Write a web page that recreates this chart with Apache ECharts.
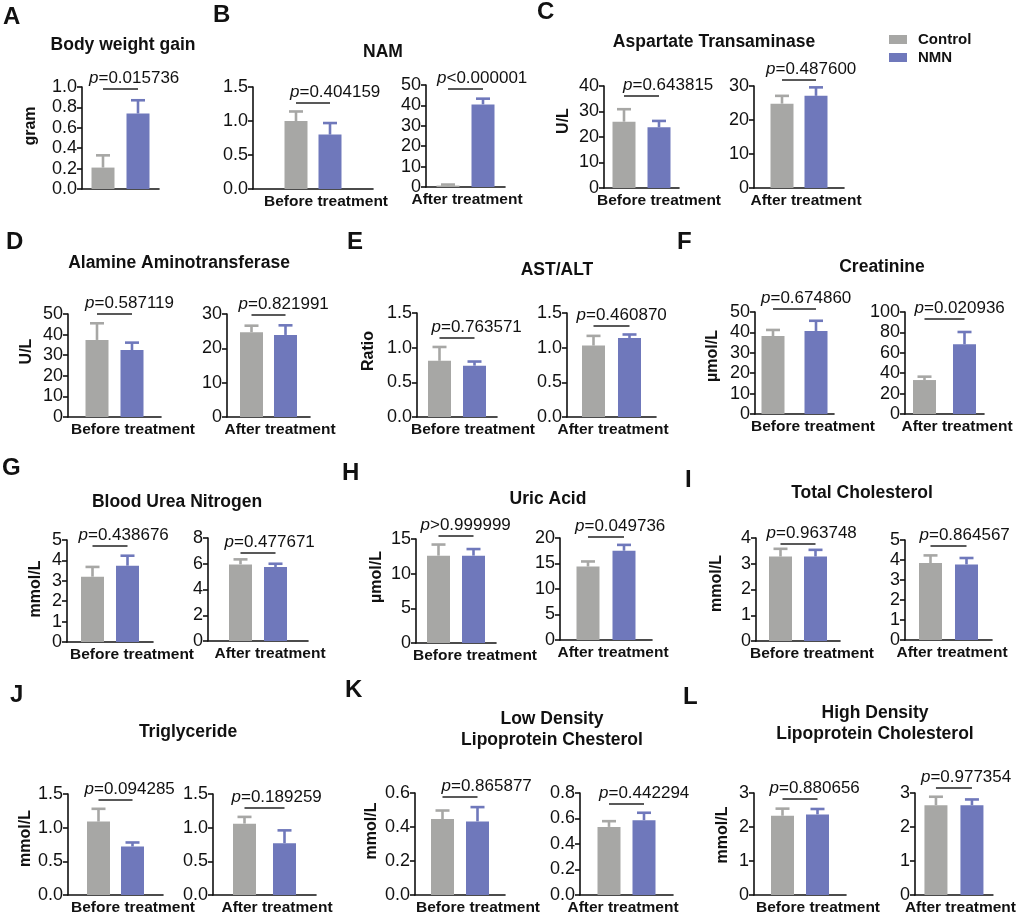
<!DOCTYPE html>
<html><head><meta charset="utf-8">
<script src="https://cdn.jsdelivr.net/npm/echarts@6/dist/echarts.min.js"></script>
<style>html,body{margin:0;padding:0;background:#fff}#c{width:1019px;height:916px}</style>
</head><body><div id="c"></div>
<script>
// ---------- DATA ----------
const panelLetters = ['A','B','C','D','E','F','G','H','I','J','K','L'];
const panelTitles = ['Body weight gain','NAM','Aspartate Transaminase','Alamine Aminotransferase','AST/ALT','Creatinine',
  'Blood Urea Nitrogen','Uric Acid','Total Cholesterol','Triglyceride','Low Density\nLipoprotein Chesterol','High Density\nLipoprotein Cholesterol'];
const unitNames = ['gram','','U/L','U/L','Ratio','µmol/L','mmol/L','µmol/L','mmol/L','mmol/L','mmol/L','mmol/L'];
const periodLabels = ['Before treatment','After treatment'];
const groups = ['Control','NMN'];
// each sub-plot: which panel, which period (-1 = none)
const subPanel  = [0,1,1,2,2,3,3,4,4,5,5,6,6,7,7,8,8,9,9,10,10,11,11];
const subPeriod = [-1,0,1,0,1,0,1,0,1,0,1,0,1,0,1,0,1,0,1,0,1,0,1];
const controlMean = [0.21,1.00,0.7,26.0,24.8,37.4,24.7,0.81,1.03,38.2,33.3,3.20,5.95,12.6,14.4,3.28,3.85,1.09,1.06,0.447,0.534,2.33,2.64];
const controlSD   = [0.12,0.14,0.5,4.9,2.3,8.1,1.9,0.20,0.14,3.0,3.3,0.48,0.39,1.6,1.0,0.30,0.38,0.19,0.10,0.05,0.045,0.21,0.25];
const nmnMean     = [0.74,0.80,40.5,23.8,27.1,32.5,23.9,0.74,1.14,40.7,68.3,3.74,5.75,12.6,17.5,3.28,3.78,0.72,0.77,0.433,0.587,2.37,2.64];
const nmnSD       = [0.13,0.17,2.8,2.5,2.5,3.6,2.8,0.06,0.05,5.0,12.1,0.49,0.25,0.95,1.15,0.26,0.32,0.06,0.19,0.084,0.058,0.16,0.17];
const pTexts = ['=0.015736','=0.404159','<0.000001','=0.643815','=0.487600','=0.587119','=0.821991','=0.763571','=0.460870',
  '=0.674860','=0.020936','=0.438676','=0.477671','>0.999999','=0.049736','=0.963748','=0.864567','=0.094285','=0.189259',
  '=0.865877','=0.442294','=0.880656','=0.977354'];
const yMax  = [1.0,1.5,50,40,30,50,30,1.5,1.5,50,100,5,8,15,20,4,5,1.5,1.5,0.6,0.8,3,3];
const yStep = [0.2,0.5,10,10,10,10,10,0.5,0.5,10,20,1,2,5,5,1,1,0.5,0.5,0.2,0.2,1,1];

// ---------- LAYOUT (pixels) ----------
// l: y-axis x, t: top, b: zero line y, w: width, gap: bar gap, ly: p-line y, tdx: p-text offset,
// ldx: x-label shift, ng: y-name gap, ns: y-name shift
const layout = [
 {l:82,t:87,b:189,w:77,gap:12,ly:89,tdx:-14,ldx:0,ng:43,ns:12},
 {l:253,t:87,b:189,w:120,gap:11,ly:103,tdx:-6,ldx:13},
 {l:426,t:85,b:187,w:79,gap:12,ly:89,tdx:-11,ldx:1.5},
 {l:604,t:86,b:188,w:75,gap:12,ly:96,tdx:-1,ldx:17.5,ng:32,ns:16},
 {l:754,t:86,b:188,w:90,gap:11,ly:80,tdx:-16,ldx:7},
 {l:68,t:314,b:417,w:93,gap:12,ly:314,tdx:-12,ldx:18.5,ng:33,ns:14},
 {l:227,t:314,b:417,w:83,gap:11,ly:315,tdx:-13,ldx:11.5},
 {l:417,t:313,b:417,w:80,gap:12,ly:338,tdx:-8,ldx:16,ng:40,ns:14},
 {l:567,t:313,b:417,w:89,gap:13,ly:326,tdx:-17,ldx:1.5},
 {l:755,t:312,b:414,w:79,gap:20,ly:309,tdx:-12,ldx:18.5,ng:34,ns:7},
 {l:905,t:312,b:414,w:79,gap:17,ly:319,tdx:-10,ldx:12.5},
 {l:67,t:540,b:642,w:86,gap:12,ly:546,tdx:-14,ldx:22,ng:23,ns:2},
 {l:208,t:538,b:641,w:100,gap:12,ly:553,tdx:-16,ldx:12},
 {l:416,t:539,b:643,w:80,gap:12,ly:536,tdx:-18,ldx:19,ng:31,ns:14},
 {l:560,t:538,b:640,w:92,gap:13,ly:537,tdx:-13,ldx:7},
 {l:756,t:538,b:641,w:84,gap:12,ly:544,tdx:-14,ldx:14,ng:31,ns:6},
 {l:905,t:540,b:640,w:87,gap:13,ly:546,tdx:-11,ldx:3.5},
 {l:68,t:794,b:896,w:95,gap:11,ly:800,tdx:-14,ldx:17.5,ng:28,ns:6},
 {l:213,t:794,b:896,w:103,gap:17,ly:808,tdx:-13,ldx:12.5},
 {l:415,t:793,b:896,w:90,gap:12,ly:797,tdx:-1,ldx:18,ng:35,ns:13},
 {l:580,t:793,b:896,w:93,gap:12,ly:804,tdx:-10,ldx:-3.5},
 {l:754,t:793,b:895,w:92,gap:12,ly:799,tdx:-13,ldx:18,ng:23,ns:9},
 {l:915,t:793,b:895,w:81,gap:13,ly:788,tdx:-15,ldx:6.5}
];
const titlePos = [[123,45],[383,52],[714,42],[179,263],[557,270],[882,267],[177,502],[548,499],[862,493],[188,732],[552,730],[875,724]];
const letterPos = [[3,17],[213,15],[537,12],[6,242],[347,242],[677,242],[2,468],[342,473],[685,480],[10,695],[345,690],[683,697]];

const FONT = '"Liberation Sans", Arial, Helvetica, sans-serif';
const GRAY = '#a7a7a5', BLUE = '#6f78bb', INK = '#111';
const BW = 23;

const grids = [], xAxes = [], yAxes = [], series = [], graphics = [];
const firstOfPanel = {};
subPanel.forEach((p, i) => { if (firstOfPanel[p] === undefined) firstOfPanel[p] = i; });

layout.forEach((L, i) => {
  grids.push({left: L.l, top: L.t, width: L.w, height: L.b - L.t, containLabel: false});
  const per = subPeriod[i];
  const pad = L.ldx >= 0 ? [0, 0, 0, 2 * L.ldx] : [0, -2 * L.ldx, 0, 0];
  xAxes.push({
    gridIndex: i, type: 'category', data: [per < 0 ? '' : periodLabels[per]],
    axisLine: {lineStyle: {color: INK, width: 1.6}}, axisTick: {show: false},
    axisLabel: {interval: 0, margin: 5, color: INK, fontSize: 15.5, fontWeight: 'bold', fontFamily: FONT, padding: pad}
  });
  const dec = yStep[i] < 1 ? 1 : 0;
  const isFirst = firstOfPanel[subPanel[i]] === i;
  const unit = isFirst ? unitNames[subPanel[i]] : '';
  yAxes.push({
    gridIndex: i, type: 'value', min: 0, max: yMax[i], interval: yStep[i],
    splitLine: {show: false},
    axisLine: {show: true, lineStyle: {color: INK, width: 1.6}},
    axisTick: {show: true, length: 5, lineStyle: {color: INK, width: 1.6}},
    axisLabel: {margin: 5, color: INK, fontSize: 18, fontFamily: FONT, formatter: v => v.toFixed(dec)},
    name: unit, nameLocation: 'middle', nameGap: L.ng || 30,
    nameTextStyle: {color: INK, fontSize: 16, fontWeight: 'bold', fontFamily: FONT, padding: [0, 0, 0, 2 * (L.ns || 0)]}
  });
  const barGap = (L.gap / BW * 100).toFixed(1) + '%';
  series.push({type: 'bar', name: groups[0], xAxisIndex: i, yAxisIndex: i, data: [controlMean[i]],
    barWidth: BW, barGap: barGap, itemStyle: {color: GRAY}, silent: true});
  series.push({type: 'bar', name: groups[1], xAxisIndex: i, yAxisIndex: i, data: [nmnMean[i]],
    barWidth: BW, barGap: barGap, itemStyle: {color: BLUE}, silent: true});
  // error bars
  series.push({type: 'custom', name: 'err' + i, xAxisIndex: i, yAxisIndex: i, silent: true, z: 3,
    encode: {x: 0, y: 1},
    data: [[0, controlMean[i], controlSD[i], 0], [0, nmnMean[i], nmnSD[i], 1]],
    renderItem: (params, api) => {
      const k = api.value(3), m = api.value(1), sd = api.value(2);
      const off = (k === 0 ? -1 : 1) * (BW + L.gap) / 2;
      const p0 = api.coord([0, m]), p1 = api.coord([0, m + sd]);
      const x = p0[0] + off, col = k === 0 ? GRAY : BLUE;
      return {type: 'group', children: [
        {type: 'line', shape: {x1: x, y1: p0[1], x2: x, y2: p1[1]}, style: {stroke: col, lineWidth: 2.6}},
        {type: 'line', shape: {x1: x - 7, y1: p1[1], x2: x + 7, y2: p1[1]}, style: {stroke: col, lineWidth: 2.6}}
      ]};
    }});
  // p-value annotation
  series.push({type: 'custom', name: 'p' + i, xAxisIndex: i, yAxisIndex: i, silent: true, z: 4,
    encode: {x: 0, y: 1}, data: [[0, 0]],
    renderItem: (params, api) => {
      const c = api.coord([0, 0]);
      const half = (BW + L.gap) / 2;
      const x1 = c[0] - half, x2 = c[0] + half;
      return {type: 'group', children: [
        {type: 'line', shape: {x1: x1, y1: L.ly, x2: x2, y2: L.ly}, style: {stroke: '#222', lineWidth: 1.4}},
        {type: 'text', x: x1 + L.tdx, y: L.ly - 11, style: {
          text: '{i|p}' + pTexts[i], fill: INK, fontSize: 17, fontFamily: FONT,
          align: 'left', verticalAlign: 'middle', textAlign: 'left', textVerticalAlign: 'middle',
          rich: {i: {fontStyle: 'italic', fontSize: 17, fontFamily: FONT, fill: INK}}
        }}
      ]};
    }});
});

panelTitles.forEach((t, k) => {
  graphics.push({type: 'text', x: titlePos[k][0], y: titlePos[k][1], silent: true, style: {
    text: t, fill: INK, fontSize: 17.5, fontWeight: 'bold', fontFamily: FONT, lineHeight: 21,
    align: 'center', verticalAlign: 'middle', textAlign: 'center', textVerticalAlign: 'middle'}});
  graphics.push({type: 'text', x: letterPos[k][0], y: letterPos[k][1], silent: true, style: {
    text: panelLetters[k], fill: INK, fontSize: 24, fontWeight: 'bold', fontFamily: FONT,
    align: 'left', verticalAlign: 'middle', textAlign: 'left', textVerticalAlign: 'middle'}});
});

const chart = echarts.init(document.getElementById('c'), null, {renderer: 'canvas'});
chart.setOption({
  backgroundColor: '#fff', animation: false,
  grid: grids, xAxis: xAxes, yAxis: yAxes, series: series, graphic: graphics,
  legend: {data: groups, orient: 'vertical', left: 889, top: 32, padding: 0, itemWidth: 18, itemHeight: 9,
    itemGap: 3, icon: 'rect', selectedMode: false,
    textStyle: {fontSize: 15, fontWeight: 'bold', color: INK, fontFamily: FONT, lineHeight: 15, padding: [0, 0, 0, 6]}}
});
</script></body></html>
